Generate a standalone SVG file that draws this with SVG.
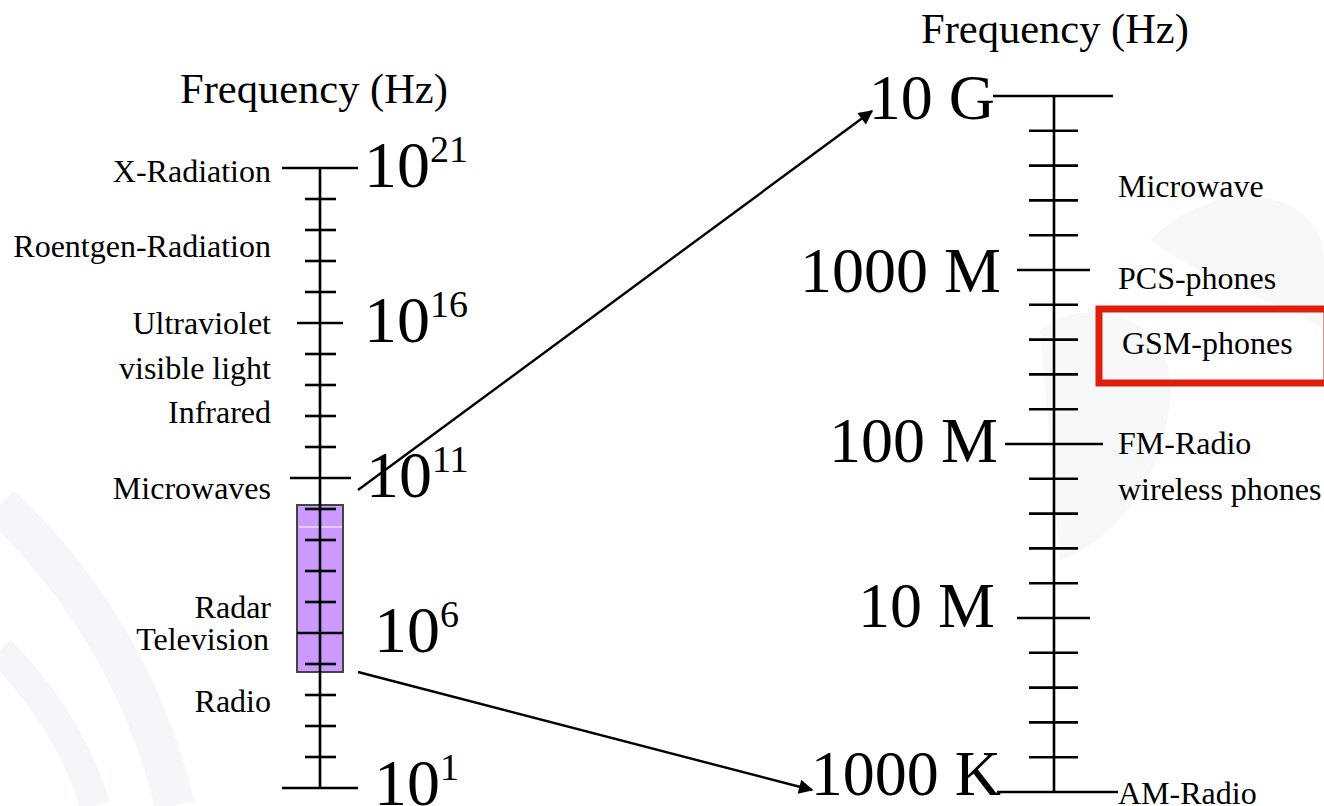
<svg xmlns="http://www.w3.org/2000/svg" width="1324" height="806" viewBox="0 0 1324 806">
<defs>
<style>
.t{font-family:"Liberation Serif","Times New Roman",serif;fill:#000}
.lbl{font-size:32px}
.big{font-size:66px}
.sup{font-size:38px}
.rbig{font-size:64px}
.ttl{font-size:42.5px}
.ax{stroke:#000;stroke-width:2.6;fill:none}
.tk{stroke:#000;stroke-width:2.6}
.con{stroke:#000;stroke-width:2.4;fill:none}
.bg{fill:none;stroke:#f5f6f9}
</style>
<marker id="ah" viewBox="0 0 10 10" refX="9" refY="5" markerWidth="7.5" markerHeight="6" markerUnits="strokeWidth" orient="auto">
<path d="M0,0 L10,5 L0,10 z" fill="#000"/>
</marker>
</defs>
<rect width="1324" height="806" fill="#fff"/>
<g id="background">
<path class="bg" d="M0,505 C60,560 140,660 175,806" stroke-width="40"/>
<path class="bg" d="M0,650 C40,690 80,750 95,806" stroke-width="30"/>
<path d="M1040,330 C1090,290 1180,320 1170,400 C1165,470 1120,540 1060,560 Z" fill="#f7f8fa"/>
<path d="M1150,240 C1220,170 1324,190 1324,260 L1324,330 C1280,300 1220,290 1150,240 Z" fill="#f7f8fa"/>
</g>
<g id="left-title"><text class="t ttl" x="180" y="103">Frequency (Hz)</text></g>
<g id="right-title"><text class="t ttl" x="921" y="43">Frequency (Hz)</text></g>
<g id="highlight-box">
<rect x="297" y="505" width="46" height="167" fill="#cc99ff" stroke="#444" stroke-width="2"/>
<line x1="299" y1="527" x2="342" y2="527" stroke="#fff" stroke-width="1"/>
</g>
<g id="left-scale">
<line class="ax" x1="320" y1="168" x2="320" y2="788"/>
<line class="tk" x1="282" y1="168" x2="358" y2="168"/>
<line class="tk" x1="305" y1="199" x2="336" y2="199"/>
<line class="tk" x1="305" y1="230" x2="336" y2="230"/>
<line class="tk" x1="305" y1="261" x2="336" y2="261"/>
<line class="tk" x1="305" y1="292" x2="336" y2="292"/>
<line class="tk" x1="297" y1="323" x2="343" y2="323"/>
<line class="tk" x1="305" y1="354" x2="336" y2="354"/>
<line class="tk" x1="305" y1="385" x2="336" y2="385"/>
<line class="tk" x1="305" y1="416" x2="336" y2="416"/>
<line class="tk" x1="305" y1="447" x2="336" y2="447"/>
<line class="tk" x1="290" y1="478" x2="351" y2="478"/>
<line class="tk" x1="305" y1="509" x2="336" y2="509"/>
<line class="tk" x1="305" y1="540" x2="336" y2="540"/>
<line class="tk" x1="305" y1="571" x2="336" y2="571"/>
<line class="tk" x1="305" y1="602" x2="336" y2="602"/>
<line class="tk" x1="297" y1="633" x2="343" y2="633"/>
<line class="tk" x1="305" y1="664" x2="336" y2="664"/>
<line class="tk" x1="305" y1="695" x2="336" y2="695"/>
<line class="tk" x1="305" y1="726" x2="336" y2="726"/>
<line class="tk" x1="305" y1="757" x2="336" y2="757"/>
<line class="tk" x1="282" y1="788" x2="358" y2="788"/>
</g>
<g id="left-values">
<text class="t big" x="364" y="187">10<tspan class="sup" dy="-25">21</tspan></text>
<text class="t big" x="364" y="342">10<tspan class="sup" dy="-25">16</tspan></text>
<text class="t big" x="366" y="497">10<tspan class="sup" dy="-25">11</tspan></text>
<text class="t big" x="374" y="652">10<tspan class="sup" dy="-25">6</tspan></text>
<text class="t big" x="374" y="805">10<tspan class="sup" dy="-25">1</tspan></text>
</g>
<g id="left-labels" text-anchor="end">
<text class="t lbl" x="271" y="182">X-Radiation</text>
<text class="t lbl" x="271" y="257">Roentgen-Radiation</text>
<text class="t lbl" x="271" y="334">Ultraviolet</text>
<text class="t lbl" x="271" y="379">visible light</text>
<text class="t lbl" x="271" y="423">Infrared</text>
<text class="t lbl" x="271" y="499">Microwaves</text>
<text class="t lbl" x="271" y="618">Radar</text>
<text class="t lbl" x="269" y="650">Television</text>
<text class="t lbl" x="271" y="712">Radio</text>
</g>
<g id="right-scale">
<line class="ax" x1="1054" y1="96" x2="1054" y2="792"/>
<line class="tk" x1="993" y1="96" x2="1113" y2="96"/>
<line class="tk" x1="1029" y1="130.8" x2="1078" y2="130.8"/>
<line class="tk" x1="1029" y1="165.6" x2="1078" y2="165.6"/>
<line class="tk" x1="1029" y1="200.4" x2="1078" y2="200.4"/>
<line class="tk" x1="1029" y1="235.2" x2="1078" y2="235.2"/>
<line class="tk" x1="1017" y1="270" x2="1090" y2="270"/>
<line class="tk" x1="1029" y1="304.8" x2="1078" y2="304.8"/>
<line class="tk" x1="1029" y1="339.6" x2="1078" y2="339.6"/>
<line class="tk" x1="1029" y1="374.4" x2="1078" y2="374.4"/>
<line class="tk" x1="1029" y1="409.2" x2="1078" y2="409.2"/>
<line class="tk" x1="1005" y1="444" x2="1103" y2="444"/>
<line class="tk" x1="1029" y1="478.8" x2="1078" y2="478.8"/>
<line class="tk" x1="1029" y1="513.6" x2="1078" y2="513.6"/>
<line class="tk" x1="1029" y1="548.4" x2="1078" y2="548.4"/>
<line class="tk" x1="1029" y1="583.2" x2="1078" y2="583.2"/>
<line class="tk" x1="1017" y1="618" x2="1090" y2="618"/>
<line class="tk" x1="1029" y1="652.8" x2="1078" y2="652.8"/>
<line class="tk" x1="1029" y1="687.6" x2="1078" y2="687.6"/>
<line class="tk" x1="1029" y1="722.4" x2="1078" y2="722.4"/>
<line class="tk" x1="1029" y1="757.2" x2="1078" y2="757.2"/>
<line class="tk" x1="997" y1="792" x2="1118" y2="792"/>
</g>
<g id="right-values" text-anchor="end">
<text class="t rbig" x="995" y="119">10 G</text>
<text class="t rbig" x="1001" y="292">1000 M</text>
<text class="t rbig" x="998" y="462">100 M</text>
<text class="t rbig" x="995" y="627">10 M</text>
<text class="t rbig" x="1001" y="795">1000 K</text>
</g>
<g id="right-labels">
<text class="t lbl" x="1118" y="197">Microwave</text>
<text class="t lbl" x="1118" y="289">PCS-phones</text>
<text class="t lbl" x="1118" y="454">FM-Radio</text>
<text class="t lbl" x="1118" y="500">wireless phones</text>
<text class="t lbl" x="1118" y="804">AM-Radio</text>
</g>
<g id="gsm-box">
<rect x="1099" y="309" width="228" height="74" fill="none" stroke="#dd1f0b" stroke-width="7"/>
<text class="t lbl" x="1122" y="354">GSM-phones</text>
</g>
<g id="connectors">
<line class="con" x1="358" y1="490" x2="872" y2="111" marker-end="url(#ah)"/>
<line class="con" x1="358" y1="672" x2="812" y2="790" marker-end="url(#ah)"/>
</g>
</svg>
